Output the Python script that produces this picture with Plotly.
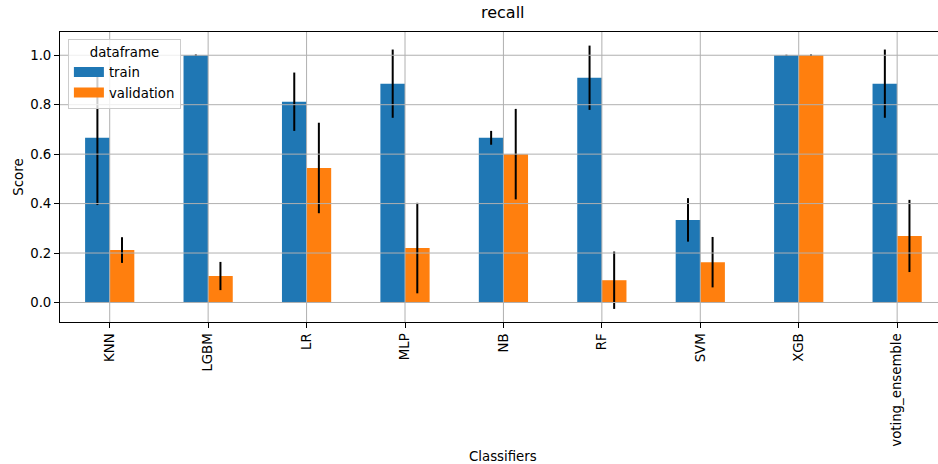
import plotly.graph_objects as go

# Recall scores per classifier (mean and std across folds)
classifiers = ["KNN", "LGBM", "LR", "MLP", "NB", "RF", "SVM", "XGB", "voting_ensemble"]
train_mean = [0.666, 1.000, 0.812, 0.885, 0.666, 0.909, 0.334, 1.000, 0.885]
train_std = [0.272, 0.003, 0.118, 0.138, 0.028, 0.130, 0.088, 0.002, 0.138]
val_mean = [0.212, 0.107, 0.544, 0.220, 0.600, 0.090, 0.163, 1.000, 0.269]
val_std = [0.052, 0.057, 0.183, 0.183, 0.183, 0.116, 0.102, 0.003, 0.146]
series_names = ["train", "validation"]
series_colors = ["#1f77b4", "#ff7f0e"]
y_ticks = [0.0, 0.2, 0.4, 0.6, 0.8, 1.0]

FONT = "DejaVu Sans"
W, H = 938, 464
ML, MT, MB, MR = 60.3, 32.3, 142.3, 0
plot_w = W - ML - MR
plot_h = H - MT - MB

fig = go.Figure()
for name, color, mean, std in zip(series_names, series_colors,
                                   [train_mean, val_mean], [train_std, val_std]):
    fig.add_trace(go.Bar(
        x=classifiers, y=mean, name=name, marker=dict(color=color, line=dict(width=0)),
        error_y=dict(type="data", array=std, visible=True, color="black",
                     thickness=2, width=0),
        showlegend=False, legendgroup=name,
    ))
    # legend-only swatch drawn as a thick short line (patch look)
    fig.add_trace(go.Scatter(
        x=[None], y=[None], mode="lines", name=name, legendgroup=name,
        line=dict(color=color, width=10),
    ))

# grid lines on top of the bars
grid_color = "#b0b0b0"
for t in y_ticks:
    fig.add_shape(type="line", xref="paper", yref="y", x0=0, x1=1, y0=t, y1=t,
                  line=dict(color=grid_color, width=1), layer="above")
for c in classifiers:
    fig.add_shape(type="line", xref="x", yref="paper", x0=c, x1=c, y0=0, y1=1,
                  line=dict(color=grid_color, width=1), layer="above")

fig.update_layout(
    width=W, height=H,
    margin=dict(l=ML, r=MR, t=MT, b=MB, pad=0),
    paper_bgcolor="white", plot_bgcolor="white",
    font=dict(family=FONT, size=13.3, color="black"),
    barmode="group", bargap=0.5, bargroupgap=0,
    legend=dict(
        title=dict(text="dataframe", side="top center", font=dict(size=13.3)),
        x=0.009, y=0.977, xanchor="left", yanchor="top",
        bgcolor="rgba(255,255,255,0.8)", bordercolor="#cccccc", borderwidth=1,
        font=dict(size=13.3), itemwidth=30, tracegroupgap=0,
    ),
    showlegend=True,
)
fig.update_xaxes(
    type="category", range=[-0.505, 8.415],
    showgrid=False, zeroline=False,
    showline=True, linecolor="black", linewidth=1, mirror=True,
    ticks="outside", ticklen=5, tickwidth=1, tickcolor="black",
    tickangle=-90, tickfont=dict(size=13.3),
)
fig.update_yaxes(
    range=[-0.079, 1.094],
    tickvals=y_ticks, tickformat=".1f",
    showgrid=False, zeroline=False,
    showline=True, linecolor="black", linewidth=1, mirror=False,
    ticks="outside", ticklen=5, tickwidth=1, tickcolor="black",
    tickfont=dict(size=13.3),
)

def px_x(p):
    return (p - ML) / plot_w

def px_y(p):
    return (H - MB - p) / plot_h

fig.add_annotation(text="recall", xref="paper", yref="paper", x=px_x(503), y=px_y(13),
                   showarrow=False, font=dict(size=16), xanchor="center", yanchor="middle")
fig.add_annotation(text="Classifiers", xref="paper", yref="paper", x=px_x(503), y=px_y(456),
                   showarrow=False, font=dict(size=13.3), xanchor="center", yanchor="middle")
fig.add_annotation(text="Score", xref="paper", yref="paper", x=px_x(18), y=px_y(177),
                   showarrow=False, font=dict(size=13.3), textangle=-90,
                   xanchor="center", yanchor="middle")

fig.write_html("out.html")
